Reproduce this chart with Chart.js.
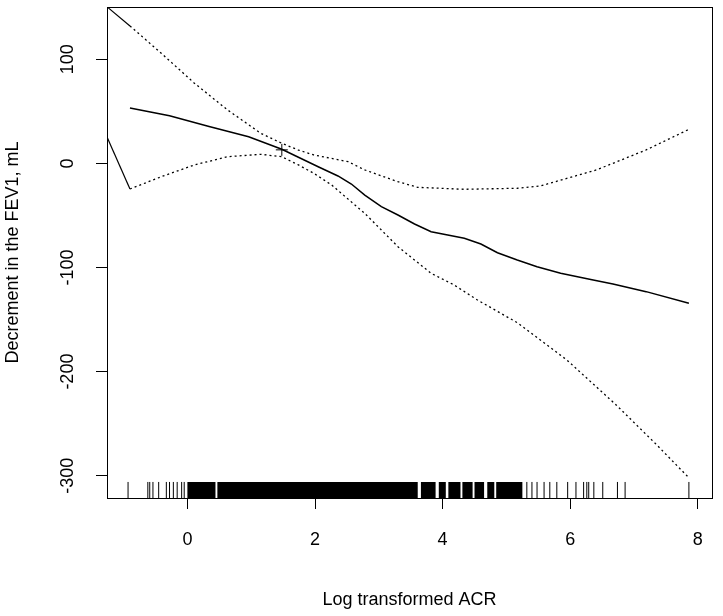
<!DOCTYPE html>
<html>
<head>
<meta charset="utf-8">
<script src="https://cdn.jsdelivr.net/npm/chart.js@4"></script>
<style>
  html, body { margin: 0; padding: 0; background: #fff; }
  canvas { display: block; }
</style>
</head>
<body>
<canvas id="chart" width="723" height="616"></canvas>
<script>
'use strict';

// fitted curve
const fitX = [-0.90, -0.28, 0.34, 0.96, 1.48, 1.74, 2.05, 2.36, 2.57, 2.78, 3.04, 3.30, 3.56, 3.82, 4.08, 4.34, 4.60, 4.86, 5.17, 5.48, 5.85, 6.36, 6.67, 7.19, 7.86];
const fitY = [53.1, 45.7, 35.5, 25.6, 13.6, 5.9, -3.2, -12.1, -19.8, -30.4, -41.6, -49.6, -58.2, -65.6, -68.8, -72.0, -77.4, -85.8, -92.8, -99.2, -105.6, -112.0, -115.9, -123.2, -134.4];

// upper 95% band
const upperX = [-0.90, -0.41, 0.11, 0.63, 1.15, 1.48, 1.74, 1.98, 2.52, 2.78, 3.30, 3.61, 4.34, 5.17, 5.53, 6.41, 7.19, 7.86];
const upperY = [132.0, 105.8, 77.0, 51.3, 28.9, 19.3, 12.8, 8.1, 1.6, -6.3, -17.6, -23.0, -24.9, -23.9, -21.7, -6.3, 12.9, 32.7];

// lower 95% band
const lowerX = [-0.90, -0.41, 0.11, 0.63, 1.15, 1.48, 1.74, 1.98, 2.26, 2.78, 3.30, 3.82, 4.18, 4.54, 5.17, 5.95, 6.72, 7.35, 7.86];
const lowerY = [-24.6, -12.8, -1.5, 6.4, 8.7, 6.4, -1.5, -9.5, -20.7, -48.0, -80.0, -105.6, -116.8, -131.0, -153.0, -189.0, -232.0, -270.0, -302.0];

// stray segments running off the left edge
const edgeUpper = [[-1.50, 162.6], [-0.90, 132.0]];
const edgeLower = [[-1.50, 58.7], [-0.90, -24.6]];

// marker at the knot
const knot = [1.48, 13.0];

// rug: single ticks and solid dense stretches
const rugTicks = [-0.93, -0.62, -0.59, -0.54, -0.45, -0.33, -0.28, -0.22, -0.16, -0.09, -0.05,
  5.32, 5.40, 5.48, 5.59, 5.68, 5.79, 5.96, 6.09, 6.21, 6.26, 6.29, 6.37, 6.51, 6.74, 6.86, 7.86];
const rugBlocks = [[0.00, 0.44], [0.47, 3.61], [3.66, 3.89], [3.94, 4.05], [4.09, 4.28], [4.31, 4.47], [4.50, 4.65], [4.70, 4.81], [4.84, 5.25]];

const xTicks = [0, 2, 4, 6, 8];
const yTicks = [100, 0, -100, -200, -300];

const xLimits = [-1.26, 8.22];
const yLimits = [-321.4, 150.2];
const rugTop = -306.0;

const FONT = '"Liberation Sans", Arial, Helvetica, sans-serif';

function pairs(xs, ys) {
    return xs.map((x, i) => ({x: x, y: ys[i]}));
}

function rugTickData() {
    let out = [];
    for (let x of rugTicks) {
        out.push({x: x, y: yLimits[0]}, {x: x, y: rugTop}, {x: x, y: null});
    }
    return out;
}

function rugBlockData() {
    let mid = (yLimits[0] + rugTop) / 2;
    let out = [];
    for (let b of rugBlocks) {
        out.push({x: b[0], y: mid}, {x: b[1], y: mid}, {x: b[1], y: null});
    }
    return out;
}

// box, rotated y labels and axis titles, R style
const frame = {
    id: 'frame',
    afterDraw(chart) {
        let ctx = chart.ctx;
        let a = chart.chartArea;
        let y = chart.scales.y;
        ctx.save();
        ctx.strokeStyle = '#000';
        ctx.lineWidth = 1;
        ctx.strokeRect(Math.round(a.left) + 0.5, Math.round(a.top) + 0.5,
            Math.round(a.right - a.left), Math.round(a.bottom - a.top));

        ctx.fillStyle = '#000';
        ctx.font = '18px ' + FONT;
        ctx.textAlign = 'center';
        ctx.textBaseline = 'middle';
        for (let v of yTicks) {
            ctx.save();
            ctx.translate(68.5, y.getPixelForValue(v));
            ctx.rotate(-Math.PI / 2);
            ctx.fillText(String(v), 0, 0);
            ctx.restore();
        }

        ctx.save();
        ctx.translate(13.5, (a.top + a.bottom) / 2);
        ctx.rotate(-Math.PI / 2);
        ctx.fillText('Decrement in the FEV1, mL', 0, 0);
        ctx.restore();

        ctx.fillText('Log transformed ACR', (a.left + a.right) / 2, 600);
        ctx.restore();
    }
};

const solid = {borderColor: '#000', borderWidth: 1.5, pointRadius: 0, showLine: true, fill: false, tension: 0};
const dotted = {borderColor: '#000', borderWidth: 1.3, borderDash: [2, 3], pointRadius: 0, showLine: true, fill: false, tension: 0};

new Chart(document.getElementById('chart').getContext('2d'), {
    type: 'scatter',
    data: {
        datasets: [
            Object.assign({label: 'fit', data: pairs(fitX, fitY)}, solid),
            Object.assign({label: 'upper', data: pairs(upperX, upperY)}, dotted),
            Object.assign({label: 'lower', data: pairs(lowerX, lowerY)}, dotted),
            Object.assign({label: 'edge upper', data: edgeUpper.map(p => ({x: p[0], y: p[1]}))}, solid, {borderWidth: 1.2}),
            Object.assign({label: 'edge lower', data: edgeLower.map(p => ({x: p[0], y: p[1]}))}, solid, {borderWidth: 1.2}),
            {
                label: 'knot', data: [{x: knot[0], y: knot[1]}],
                pointStyle: 'cross', pointRadius: 6, borderColor: '#000', borderWidth: 1, showLine: false
            },
            {
                label: 'rug', data: rugTickData(), showLine: true, spanGaps: false,
                borderColor: '#000', borderWidth: 1, pointRadius: 0
            },
            {
                label: 'rug dense', data: rugBlockData(), showLine: true, spanGaps: false,
                borderColor: '#000', borderWidth: 16, borderCapStyle: 'butt', pointRadius: 0
            }
        ]
    },
    options: {
        responsive: false,
        devicePixelRatio: 1,
        animation: false,
        events: [],
        layout: {padding: {top: 7, right: 7, left: 0, bottom: 0}},
        plugins: {
            legend: {display: false},
            tooltip: {enabled: false}
        },
        scales: {
            x: {
                type: 'linear',
                min: xLimits[0],
                max: xLimits[1],
                afterBuildTicks: s => { s.ticks = xTicks.map(v => ({value: v})); },
                afterFit: s => { s.height = 118; },
                grid: {drawOnChartArea: false, drawTicks: true, tickLength: 11, color: '#000', lineWidth: 1},
                border: {display: true, color: '#000', width: 1},
                ticks: {color: '#000', font: {size: 18, family: FONT}, padding: 20, maxRotation: 0, autoSkip: false}
            },
            y: {
                type: 'linear',
                min: yLimits[0],
                max: yLimits[1],
                afterBuildTicks: s => { s.ticks = yTicks.map(v => ({value: v})); },
                afterFit: s => { s.width = 107; },
                grid: {drawOnChartArea: false, drawTicks: true, tickLength: 11, color: '#000', lineWidth: 1},
                border: {display: true, color: '#000', width: 1},
                ticks: {display: false}
            }
        }
    },
    plugins: [frame]
});
</script>
</body>
</html>
